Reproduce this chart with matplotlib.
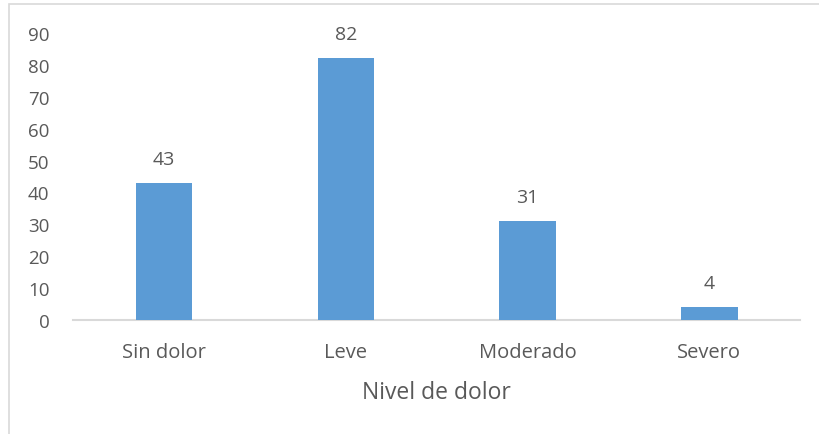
import matplotlib
matplotlib.use("Agg")
import matplotlib.pyplot as plt
from matplotlib.patches import Rectangle

categories = ["Sin dolor", "Leve", "Moderado", "Severo"]
values = [43, 82, 31, 4]
yticks = [0, 10, 20, 30, 40, 50, 60, 70, 80, 90]

plt.rcParams['font.family'] = ['Open Sans', 'DejaVu Sans']
textColor = '#595959'

fig = plt.figure(figsize=(8.19, 4.35), dpi=100)
ax = fig.add_axes([0.0891, 0.262, 0.888, 0.66])

x = range(len(categories))
bars = ax.bar(x, values, width=0.31, color='#5B9BD5', zorder=3)
for b, v in zip(bars, values):
    ax.annotate(str(v), (b.get_x() + b.get_width() / 2, v), xytext=(0, 11),
                textcoords='offset points', ha='center', va='bottom',
                fontsize=14, color=textColor)

ax.set_xlim(-0.5, len(categories) - 0.5)
ax.set_ylim(0, 90)
ax.set_yticks(yticks)
ax.set_xticks(list(x))
ax.set_xticklabels(categories)
ax.tick_params(axis='both', length=0, labelcolor=textColor)
ax.tick_params(axis='x', pad=15.5, labelsize=14.5)
ax.tick_params(axis='y', pad=17, labelsize=13.5)
ax.set_xlabel('Nivel de dolor', fontsize=16.5, color=textColor, labelpad=13)

for s in ['top', 'right', 'left']:
    ax.spines[s].set_visible(False)
ax.spines['bottom'].set_color('#D9D9D9')
ax.spines['bottom'].set_linewidth(1.5)

# chart frame
fig.patches.append(Rectangle((8.5 / 819, -0.1), 1.2, 1.1 - 4.5 / 435, transform=fig.transFigure,
                             fill=False, edgecolor='#D9D9D9', linewidth=1.2))

fig.savefig('out.png', dpi=100)
